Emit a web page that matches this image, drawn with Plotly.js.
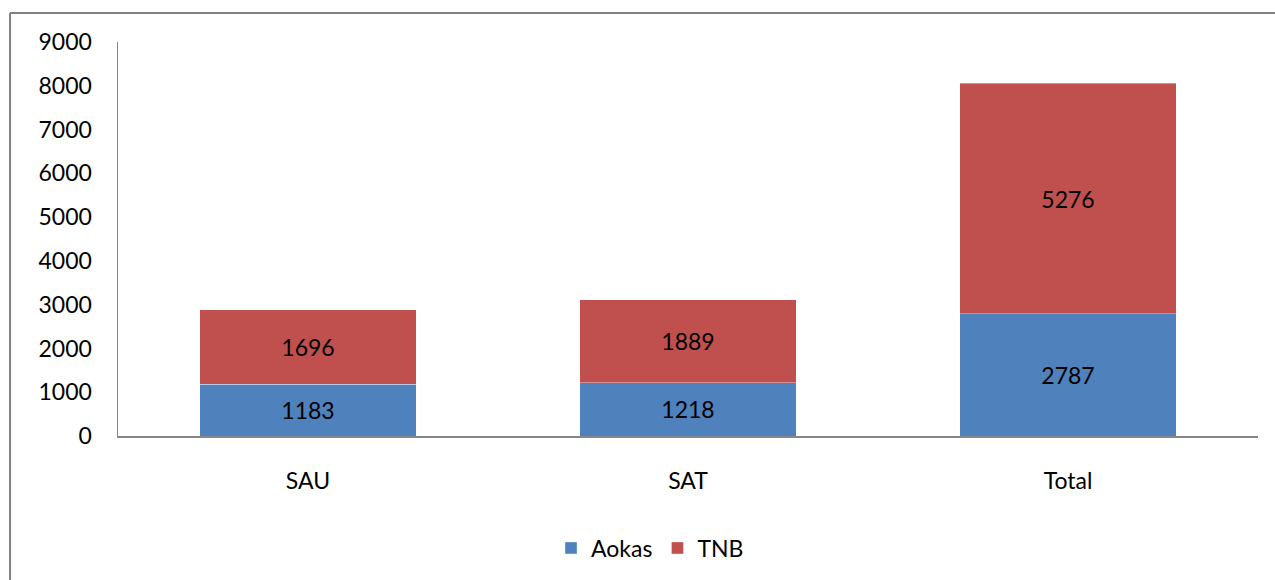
<!DOCTYPE html>
<html>
<head>
<meta charset="utf-8">
<script src="https://cdn.plot.ly/plotly-3.0.1.min.js"></script>
<style>
  html, body { margin: 0; padding: 0; background: #ffffff; }
  #chart { width: 1275px; height: 580px; }
</style>
</head>
<body>
<div id="chart"></div>
<script>
const categories = ["SAU", "SAT", "Total"];
const aokas = [1183, 1218, 2787];
const tnb = [1696, 1889, 5276];
const yTicks = [0, 1000, 2000, 3000, 4000, 5000, 6000, 7000, 8000, 9000];

const FONT = "Lato, 'Open Sans', sans-serif";
const FS = 23;
const barW = 0.57;

const traces = [
  {
    type: "bar", name: "Aokas", x: categories, y: aokas,
    text: aokas.map(String), textposition: "inside", insidetextanchor: "middle",
    textfont: { family: FONT, size: FS, color: "#000000" },
    marker: { color: "#4F81BD", line: { color: "rgba(255,255,255,0.35)", width: 1 } },
    width: barW, hoverinfo: "none"
  },
  {
    type: "bar", name: "TNB", x: categories, y: tnb,
    text: tnb.map(String), textposition: "inside", insidetextanchor: "middle",
    textfont: { family: FONT, size: FS, color: "#000000" },
    marker: { color: "#C0504D", line: { color: "rgba(255,255,255,0.35)", width: 1 } },
    width: barW, hoverinfo: "none"
  }
];

const layout = {
  width: 1275, height: 580,
  paper_bgcolor: "#ffffff", plot_bgcolor: "#ffffff",
  margin: { l: 118, r: 17, t: 42, b: 143 },
  barmode: "stack",
  font: { family: FONT, size: FS, color: "#000000" },
  showlegend: true,
  legend: {
    orientation: "h", x: 0.4667, xanchor: "center", y: -0.281, yanchor: "middle",
    font: { family: FONT, size: FS, color: "#000000" },
    itemwidth: 30, traceorder: "normal", itemclick: false
  },
  xaxis: {
    type: "category", showgrid: false, zeroline: false,
    showline: true, linecolor: "#868686", linewidth: 2,
    ticks: "", ticklabelstandoff: 23,
    tickfont: { family: FONT, size: FS, color: "#000000" }
  },
  yaxis: {
    range: [0, 9000], tickvals: yTicks, ticktext: yTicks.map(String),
    showgrid: false, zeroline: false,
    showline: true, linecolor: "#868686", linewidth: 1.5,
    ticks: "", ticklabelstandoff: 20,
    tickfont: { family: FONT, size: FS, color: "#000000" }
  },
  shapes: [
    { type: "line", xref: "paper", yref: "paper", x0: -0.0947, x1: 1.02, y0: 1.0734, y1: 1.0734,
      line: { color: "#808080", width: 2 } },
    { type: "line", xref: "paper", yref: "paper", x0: -0.0947, x1: -0.0947, y0: 1.0734, y1: -0.37,
      line: { color: "#808080", width: 2 } }
  ]
};

Plotly.newPlot("chart", traces, layout, { displayModeBar: false, staticPlot: true });
</script>
</body>
</html>
